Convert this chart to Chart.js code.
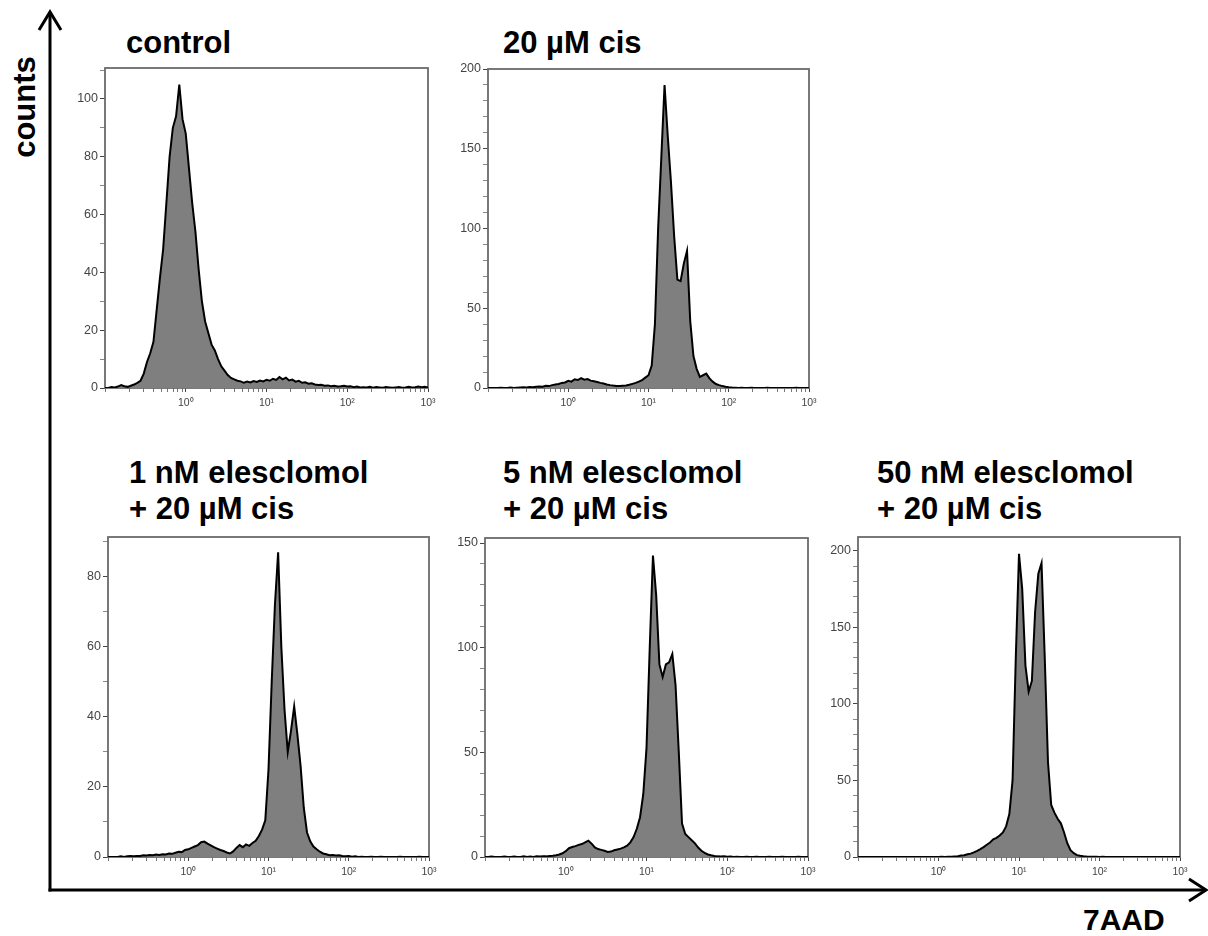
<!DOCTYPE html>
<html>
<head>
<meta charset="utf-8">
<script src="https://cdn.jsdelivr.net/npm/chart.js@4.4.1/dist/chart.umd.min.js"></script>
<style>
  html, body { margin: 0; padding: 0; background: #fff; }
  #page { position: relative; width: 1208px; height: 936px; overflow: hidden; background: #fff; }
  #page canvas { position: absolute; }
  #overlay { position: absolute; left: 0; top: 0; }
</style>
</head>
<body>
<div id="page">
  <svg id="overlay" width="1208" height="936" xmlns="http://www.w3.org/2000/svg"
       font-family="'Liberation Sans', Arial, sans-serif" font-weight="bold">
    <g stroke="#000" stroke-width="3" fill="none">
      <line x1="50" y1="891.5" x2="50" y2="12"/>
      <polyline points="39,30 50,12 61,30"/>
      <line x1="48.5" y1="890" x2="1205" y2="890"/>
      <polyline points="1189,879 1206,890 1189,901"/>
    </g>
    <g id="labels" fill="#000" font-size="31"></g>
  </svg>
</div>
<script>
// Histogram bins: log10 of 7AAD intensity, one bin every 0.04 decade
const logBins = [
  -1.00,-0.96,-0.92,-0.88,-0.84,-0.80,-0.76,-0.72,-0.68,-0.64,
  -0.60,-0.56,-0.52,-0.48,-0.44,-0.40,-0.36,-0.32,-0.28,-0.24,
  -0.20,-0.16,-0.12,-0.08,-0.04, 0.00, 0.04, 0.08, 0.12, 0.16,
   0.20, 0.24, 0.28, 0.32, 0.36, 0.40, 0.44, 0.48, 0.52, 0.56,
   0.60, 0.64, 0.68, 0.72, 0.76, 0.80, 0.84, 0.88, 0.92, 0.96,
   1.00, 1.04, 1.08, 1.12, 1.16, 1.20, 1.24, 1.28, 1.32, 1.36,
   1.40, 1.44, 1.48, 1.52, 1.56, 1.60, 1.64, 1.68, 1.72, 1.76,
   1.80, 1.84, 1.88, 1.92, 1.96, 2.00, 2.04, 2.08, 2.12, 2.16,
   2.20, 2.24, 2.28, 2.32, 2.36, 2.40, 2.44, 2.48, 2.52, 2.56,
   2.60, 2.64, 2.68, 2.72, 2.76, 2.80, 2.84, 2.88, 2.92, 2.96,
   3.00
];

// Cell counts per bin
const controlCounts = [
  0, 0, 0.3, 0.2, 0.5, 1.0, 0.6, 0.4, 0.8, 1.2,
  1.8, 2.5, 5, 9, 12, 16, 27, 38, 48, 64,
  80, 90, 94, 105, 93, 88, 76, 64, 54, 41,
  30, 23, 19, 15, 13, 10, 7.5, 6, 4.5, 3.5,
  3, 2.5, 2.3, 1.8, 2.2, 1.9, 2.4, 2.1, 2.6, 2.3,
  2.8, 2.5, 3.2, 2.8, 3.8, 3.0, 3.6, 2.6, 2.9, 2.2,
  2.5, 1.8, 2.0, 1.5, 1.6, 1.2, 1.0, 1.1, 0.8, 0.9,
  0.6, 0.8, 0.5, 0.6, 0.8, 0.5, 0.6, 0.3, 0.5, 0.2,
  0.3, 0.2, 0.4, 0.1, 0.3, 0.2, 0.1, 0.3, 0.2, 0.1,
  0.2, 0.3, 0.1, 0.2, 0.4, 0.2, 0.3, 0.5, 0.3, 0.4,
  0.2
];
const cis20Counts = [
  0, 0, 0, 0, 0.2, 0, 0, 0.3, 0, 0.2,
  0.3, 0.4, 0.3, 0.6, 0.5, 0.8, 1.0, 0.8, 1.4, 1.2,
  1.8, 2.2, 2.5, 3.2, 3.5, 4.5, 4.0, 5.5, 5.0, 6.2,
  5.2, 5.6, 4.6, 4.2, 3.8, 3.2, 2.8, 2.2, 1.8, 1.5,
  1.3, 1.2, 1.4, 1.6, 2.0, 2.6, 3.2, 4.0, 5.0, 6.5,
  8, 14, 40, 100, 145, 190, 158, 129, 95, 68,
  67, 78, 86, 42, 20, 12, 7, 8, 9, 6,
  4, 2.5, 1.8, 1.2, 0.8, 0.5, 0.3, 0.2, 0, 0.2,
  0, 0, 0.1, 0, 0, 0, 0, 0.1, 0, 0,
  0, 0, 0, 0, 0, 0, 0.1, 0, 0, 0,
  0
];
const ele1Counts = [
  0, 0, 0, 0, 0.2, 0, 0.2, 0.3, 0.2, 0.3,
  0.3, 0.5, 0.4, 0.6, 0.5, 0.7, 0.6, 0.8, 0.7, 1.0,
  0.9, 1.2, 1.5, 1.4, 2.0, 2.2, 2.6, 3.0, 3.4, 4.2,
  4.4, 3.8, 3.3, 2.8, 2.4, 2.0, 1.7, 1.3, 1.0, 1.6,
  2.6, 3.4, 2.8, 3.6, 3.2, 4.0, 4.6, 6.0, 7.8, 10.5,
  25, 50, 72, 87, 60, 42, 30, 36, 43, 35,
  26, 14, 7, 4.5, 3.0, 2.2, 1.5, 1.0, 0.8, 0.5,
  0.6, 0.4, 0.5, 0.3, 0.2, 0.3, 0.1, 0.2, 0, 0.1,
  0, 0, 0.1, 0, 0, 0.1, 0, 0, 0, 0,
  0, 0.1, 0, 0, 0, 0, 0, 0.1, 0, 0,
  0
];
const ele5Counts = [
  0, 0, 0.2, 0, 0, 0, 0.2, 0, 0, 0.2,
  0, 0, 0.3, 0, 0.2, 0, 0.3, 0.2, 0.4, 0.3,
  0.5, 0.6, 0.8, 1.2, 1.8, 2.8, 4.2, 4.8, 5.2, 5.8,
  6.2, 7.0, 7.8, 6.4, 4.6, 3.8, 3.4, 3.0, 2.4, 2.6,
  3.2, 3.6, 4.0, 4.6, 5.4, 7.0, 9.5, 13.5, 19, 30,
  52, 100, 144, 125, 92, 86, 92, 93, 97, 82,
  50, 16, 11, 9.5, 8, 6.5, 4.5, 3.0, 2.0, 1.2,
  0.8, 0.5, 0.3, 0.2, 0.3, 0.1, 0.2, 0, 0.1, 0,
  0, 0.1, 0, 0, 0.1, 0, 0, 0, 0.1, 0,
  0, 0, 0.1, 0, 0, 0, 0, 0.1, 0, 0,
  0
];
const ele50Counts = [
  0, 0, 0, 0, 0, 0, 0, 0, 0, 0,
  0, 0, 0, 0, 0, 0, 0, 0, 0, 0,
  0, 0, 0, 0, 0, 0, 0.1, 0, 0.2, 0.1,
  0.3, 0.5, 1.0, 1.2, 1.8, 2.2, 3.0, 4.0, 5.2, 6.5,
  8.0, 9.5, 11.5, 12.5, 14, 16, 20, 28, 50, 130,
  198, 175, 125, 108, 115, 160, 185, 192, 130, 62,
  34, 29, 25, 22, 16, 9, 4.5, 2.5, 1.2, 0.8,
  0.5, 0.3, 0.2, 0.1, 0.2, 0, 0.1, 0, 0, 0,
  0, 0, 0, 0, 0, 0, 0, 0, 0, 0,
  0, 0, 0, 0, 0, 0, 0, 0, 0, 0,
  0
];

// Axis ticks
const xTickValues = [
  0.1, 0.2, 0.3, 0.4, 0.5, 0.6, 0.7, 0.8, 0.9,
  1, 2, 3, 4, 5, 6, 7, 8, 9,
  10, 20, 30, 40, 50, 60, 70, 80, 90,
  100, 200, 300, 400, 500, 600, 700, 800, 900,
  1000
];
const xTickLabels = { 1: '10\u2070', 10: '10\u00B9', 100: '10\u00B2', 1000: '10\u00B3' };
const yAxisMax = [110.7, 200, 91.4, 152.4, 209];
const yLabelStep = [20, 50, 20, 50, 50];
const yMinorStep = 10;

// Panel titles (one or two lines each)
const panelTitles = [
  ['control'],
  ['20 \u00B5M cis'],
  ['1 nM elesclomol', '+ 20 \u00B5M cis'],
  ['5 nM elesclomol', '+ 20 \u00B5M cis'],
  ['50 nM elesclomol', '+ 20 \u00B5M cis']
];
const panelCounts = [controlCounts, cis20Counts, ele1Counts, ele5Counts, ele50Counts];

// Page layout: plot frame of each panel and where its title sits
const frames = [
  { left: 105, top: 68,  right: 428,  bottom: 388 },
  { left: 488, top: 69,  right: 809,  bottom: 388 },
  { left: 108, top: 537, right: 429,  bottom: 857 },
  { left: 485, top: 538, right: 808,  bottom: 857 },
  { left: 858, top: 537, right: 1180, bottom: 857 }
];
const titleAnchors = [
  { x: 126, y: 53 }, { x: 503, y: 53 },
  { x: 129, y: 483 }, { x: 503, y: 483 }, { x: 877, y: 483 }
];
const titleLineGap = 36;

const FONT = "'Liberation Sans', Arial, sans-serif";
const Y_AXIS_W = 46, X_AXIS_H = 30, PAD_TOP = 10, PAD_RIGHT = 14;

// Grey frame round each plot area, drawn under the histogram outline
const plotFrame = {
  id: 'plotFrame',
  beforeDatasetsDraw(chart) {
    const { ctx, chartArea: a } = chart;
    ctx.save();
    ctx.strokeStyle = '#6b6b6b';
    ctx.lineWidth = 1.8;
    ctx.strokeRect(a.left, a.top, a.right - a.left, a.bottom - a.top);
    ctx.restore();
  }
};

const page = document.getElementById('page');

function drawPanel(idx) {
  const f = frames[idx];
  const counts = panelCounts[idx];
  const yMax = yAxisMax[idx];
  const step = yLabelStep[idx];

  const canvas = document.createElement('canvas');
  canvas.width = Y_AXIS_W + (f.right - f.left) + PAD_RIGHT;
  canvas.height = PAD_TOP + (f.bottom - f.top) + X_AXIS_H;
  canvas.style.left = (f.left - Y_AXIS_W) + 'px';
  canvas.style.top = (f.top - PAD_TOP) + 'px';
  page.appendChild(canvas);

  const points = logBins.map((lv, i) => ({ x: Math.pow(10, lv), y: counts[i] }));

  new Chart(canvas, {
    type: 'line',
    data: {
      datasets: [{
        data: points,
        fill: 'origin',
        backgroundColor: '#7f7f7f',
        borderColor: '#000',
        borderWidth: 2,
        pointRadius: 0,
        tension: 0
      }]
    },
    options: {
      responsive: false,
      animation: false,
      devicePixelRatio: 1,
      layout: { padding: { top: PAD_TOP, right: PAD_RIGHT, left: 0, bottom: 0 } },
      plugins: { legend: { display: false }, tooltip: { enabled: false } },
      scales: {
        x: {
          type: 'logarithmic',
          min: 0.1,
          max: 1000,
          bounds: 'data',
          afterBuildTicks: s => { s.ticks = xTickValues.map(v => ({ value: v })); },
          afterFit: s => { s.height = X_AXIS_H; },
          grid: {
            drawOnChartArea: false, drawTicks: true, tickLength: 4,
            tickColor: c => (xTickLabels[c.tick && c.tick.value] ? '#444' : '#777'),
            tickWidth: 1
          },
          border: { display: false },
          ticks: {
            autoSkip: false, maxRotation: 0, minRotation: 0, padding: 5,
            color: '#444', font: { family: FONT, size: 10.5 },
            callback: v => xTickLabels[v] || ''
          }
        },
        y: {
          min: 0,
          max: yMax,
          bounds: 'data',
          afterBuildTicks: s => {
            const t = [];
            for (let v = 0; v <= yMax + 1e-6; v += yMinorStep) t.push({ value: v });
            s.ticks = t;
          },
          afterFit: s => { s.width = Y_AXIS_W; },
          grid: {
            drawOnChartArea: false, drawTicks: true, tickLength: 5,
            tickColor: c => (c.tick && c.tick.value % step === 0 ? '#444' : '#888'),
            tickWidth: 1
          },
          border: { display: false },
          ticks: {
            autoSkip: false, padding: 2,
            color: '#444', font: { family: FONT, size: 12.5 },
            callback: v => (v % step === 0 ? String(v) : '')
          }
        }
      }
    },
    plugins: [plotFrame]
  });
}

for (let i = 0; i < frames.length; i++) drawPanel(i);

// Titles and axis captions
const svgNS = 'http://www.w3.org/2000/svg';
const labels = document.getElementById('labels');
function addText(str, attrs) {
  const t = document.createElementNS(svgNS, 'text');
  for (const k in attrs) t.setAttribute(k, attrs[k]);
  t.textContent = str;
  labels.appendChild(t);
}
panelTitles.forEach((lines, i) => {
  lines.forEach((line, j) => {
    addText(line, { x: titleAnchors[i].x, y: titleAnchors[i].y + j * titleLineGap });
  });
});
addText('counts', { transform: 'translate(35,107) rotate(-90)', 'text-anchor': 'middle', 'font-size': 31 });
addText('7AAD', { x: 1083, y: 930, 'font-size': 30 });
</script>
</body>
</html>
